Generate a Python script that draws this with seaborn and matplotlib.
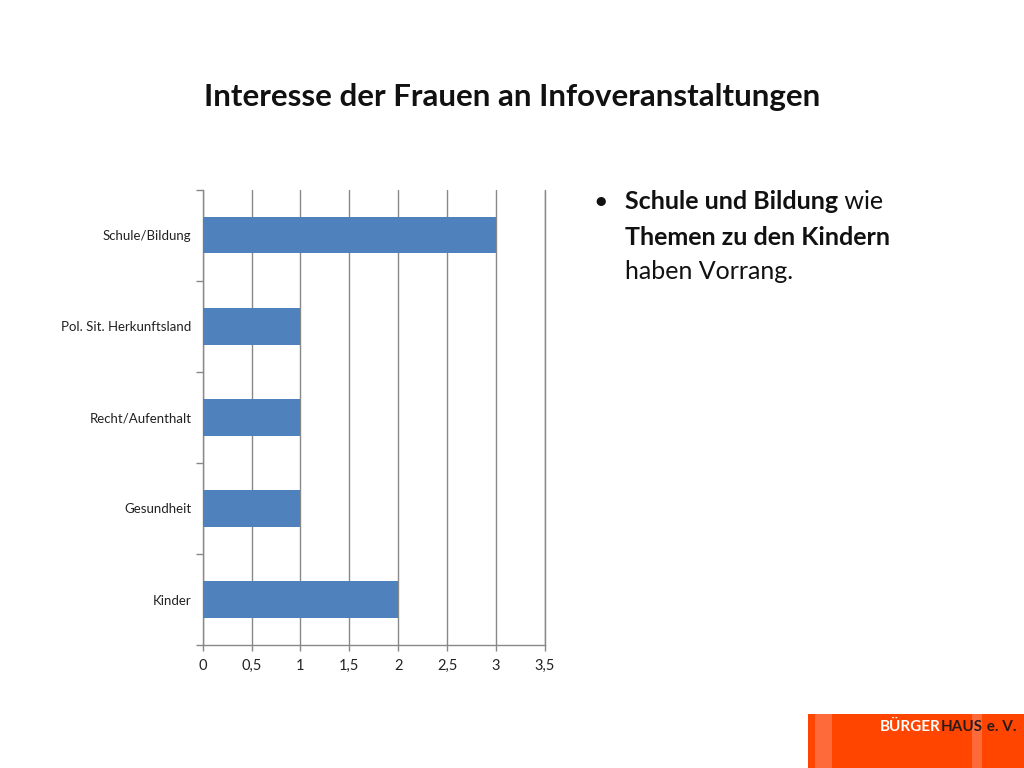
import pandas as pd
import seaborn as sns
import matplotlib.pyplot as plt
from matplotlib.patches import Rectangle

# data
themen = ["Schule/Bildung", "Pol. Sit. Herkunftsland", "Recht/Aufenthalt", "Gesundheit", "Kinder"]
werte = [3, 1, 1, 1, 2]
x_ticks = [0, 0.5, 1, 1.5, 2, 2.5, 3, 3.5]
x_labels = ["0", "0,5", "1", "1,5", "2", "2,5", "3", "3,5"]

df = pd.DataFrame({"Thema": themen, "Wert": werte})

sns.set_style("white")
plt.rcParams['font.family'] = ['Lato', 'DejaVu Sans']

fig = plt.figure(figsize=(10.24, 7.68), dpi=100)
ax = fig.add_axes([0.198, 0.160, 0.334, 0.593])

sns.barplot(data=df, x="Wert", y="Thema", order=themen, color="#4F81BD",
            saturation=1, width=0.4, ax=ax, zorder=3, edgecolor="none", linewidth=0)

ax.set_xlim(0, 3.5)
ax.set_ylim(len(themen) - 0.5, -0.5)
ax.set_xticks(x_ticks)
ax.set_xticklabels(x_labels, fontsize=10.5, color="#222222")
ax.set_xlabel("")
ax.set_ylabel("")

# category labels in the middle, tick marks on the borders
ax.set_yticks(range(len(themen)))
ax.set_yticklabels(themen, fontsize=9.5, color="#222222")
ax.set_yticks([i - 0.5 for i in range(len(themen) + 1)], minor=True)
ax.tick_params(axis="y", which="major", left=False, length=0, pad=8)
ax.tick_params(axis="y", which="minor", left=True, length=5, color="#888888", width=1, direction="out")
ax.tick_params(axis="x", bottom=True, length=4, color="#888888", width=1, direction="out", pad=6)

ax.grid(axis="x", color="#888888", linewidth=1, zorder=0)
ax.axvline(3.5, color="#888888", linewidth=1, clip_on=False, zorder=0)
for side in ["top", "right"]:
    ax.spines[side].set_visible(False)
for side in ["left", "bottom"]:
    ax.spines[side].set_color("#888888")
    ax.spines[side].set_linewidth(1)

# slide title
fig.text(0.5, 0.874, "Interesse der Frauen an Infoveranstaltungen", ha="center", va="center",
         fontsize=22.5, fontweight="bold", color="#111111")

# bullet text
fs = 18
fig.text(0.579, 0.737, "\u2022", fontsize=fs, va="center", ha="left", color="#111111")
t1 = fig.text(0.610, 0.737, "Schule und Bildung", fontsize=fs, fontweight="bold", va="center", color="#111111")
ax.annotate(" wie", xy=(1, 0), xycoords=t1, va="bottom", ha="left", fontsize=fs, color="#111111")
fig.text(0.610, 0.691, "Themen zu den Kindern", fontsize=fs, fontweight="bold", va="center", color="#111111")
fig.text(0.610, 0.647, "haben Vorrang.", fontsize=fs, va="center", color="#111111")

# logo box bottom right (drawn underneath everything else)
fig.patches.append(Rectangle((808 / 1024, 0), 216 / 1024, 54 / 768, transform=fig.transFigure,
                             facecolor="#FF4500", edgecolor="none", zorder=-2))
fig.patches.append(Rectangle((815 / 1024, 0), 17 / 1024, 54 / 768, transform=fig.transFigure,
                             facecolor="#FF6A3A", edgecolor="none", zorder=-1))
fig.patches.append(Rectangle((972 / 1024, 0), 10 / 1024, 54 / 768, transform=fig.transFigure,
                             facecolor="#FF6A3A", edgecolor="none", zorder=-1))
b1 = fig.text(880 / 1024, 0.054, "BÜRGER", fontsize=11, fontweight="bold", color="white",
              va="center", ha="left")
b2 = ax.annotate("HAUS", xy=(1, 0), xycoords=b1, va="bottom", ha="left", fontsize=11,
                 fontweight="bold", color="#2a1a1a", annotation_clip=False)
ax.annotate(" e. V.", xy=(1, 0), xycoords=b2, va="bottom", ha="left", fontsize=11,
            fontweight="bold", color="#2a1a1a", annotation_clip=False)

plt.savefig("out.png", dpi=100)
